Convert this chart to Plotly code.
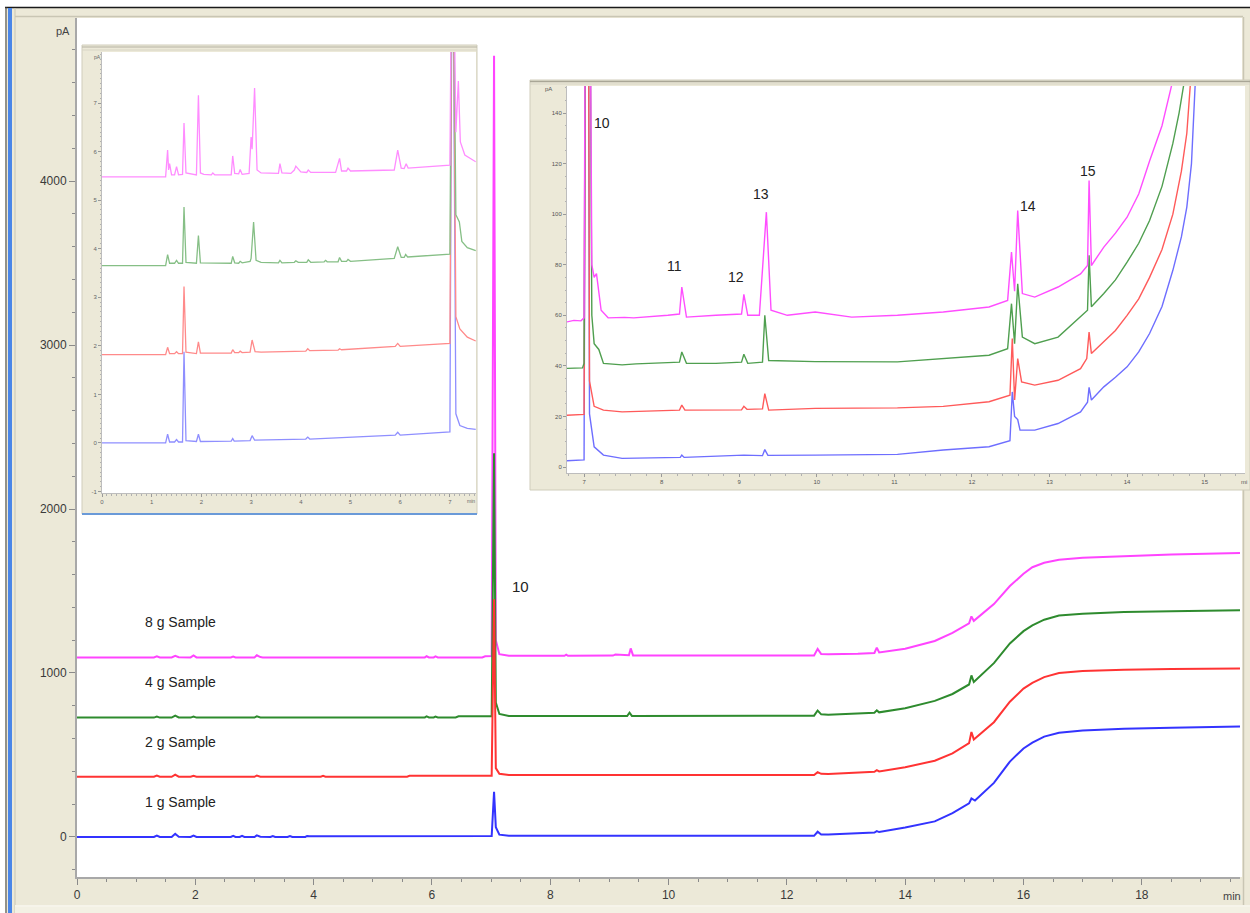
import plotly.graph_objects as go

W, H = 1250, 913

# ---------------- main chromatogram (pA vs min) ----------------
sample_names = ["1 g Sample", "2 g Sample", "4 g Sample", "8 g Sample"]

main_blue = [(0, 0), (1.30, 0), (1.35, 9), (1.40, 0), (1.60, 0), (1.66, 20), (1.72, 2), (1.92, 0), (1.97, 9),
             (2.02, 0), (2.60, 0), (2.64, 7), (2.68, 0), (2.75, 0), (2.79, 7), (2.83, 0), (3.00, 0), (3.04, 10),
             (3.10, 2), (3.27, 0), (3.31, 6), (3.35, 0), (3.56, 0), (3.60, 6), (3.64, 0), (3.86, 0), (3.89, 6),
             (3.93, 5), (7.01, 6), (7.05, 275), (7.08, 60), (7.14, 14), (7.30, 7), (12.46, 7), (12.52, 32),
             (12.58, 15), (12.70, 15), (13.20, 22), (13.48, 27), (13.52, 36), (13.56, 30), (14.00, 58),
             (14.50, 95), (14.80, 145), (15.08, 205), (15.12, 235), (15.18, 222), (15.50, 330), (15.77, 460),
             (16.00, 540), (16.15, 575), (16.35, 612), (16.60, 636), (17.00, 650), (17.70, 660), (18.50, 666),
             (19.66, 673)]

main_red = [(0, 367), (1.30, 367), (1.35, 374), (1.40, 367), (1.60, 367), (1.66, 380), (1.72, 368), (1.92, 367),
            (1.97, 373), (2.02, 367), (3.00, 367), (3.04, 375), (3.10, 368), (4.12, 368), (4.16, 373), (4.20, 368),
            (5.58, 368), (5.62, 373), (7.01, 373), (7.05, 1450), (7.08, 420), (7.14, 385), (7.30, 378),
            (12.46, 378), (12.52, 395), (12.58, 385), (12.70, 384), (13.20, 392), (13.48, 398), (13.52, 408),
            (13.56, 400), (14.00, 425), (14.50, 465), (14.80, 510), (15.08, 572), (15.12, 640), (15.16, 595),
            (15.50, 700), (15.77, 825), (16.00, 905), (16.15, 940), (16.35, 975), (16.60, 1000), (17.00, 1012),
            (17.70, 1020), (18.50, 1024), (19.66, 1028)]

main_green = [(0, 728), (1.30, 728), (1.35, 735), (1.40, 728), (1.60, 728), (1.66, 740), (1.72, 729), (1.92, 728),
              (1.97, 735), (2.02, 728), (3.00, 728), (3.04, 736), (3.10, 729), (5.88, 729), (5.91, 735),
              (5.95, 729), (6.03, 729), (6.06, 734), (6.10, 729), (6.40, 729), (6.45, 736), (7.01, 736),
              (7.05, 2340), (7.08, 820), (7.14, 750), (7.30, 738), (9.30, 738), (9.34, 758), (9.38, 738),
              (12.46, 740), (12.52, 771), (12.58, 748), (12.70, 746), (13.20, 752), (13.48, 758), (13.52, 772),
              (13.56, 760), (14.00, 785), (14.50, 830), (14.80, 872), (15.08, 930), (15.12, 985), (15.16, 945),
              (15.50, 1060), (15.77, 1180), (16.00, 1255), (16.15, 1290), (16.35, 1325), (16.60, 1350),
              (17.00, 1362), (17.70, 1372), (18.50, 1377), (19.66, 1382)]

main_magenta = [(0, 1095), (1.30, 1095), (1.35, 1102), (1.40, 1095), (1.60, 1095), (1.66, 1105), (1.72, 1096),
                (1.92, 1095), (1.97, 1107), (2.02, 1095), (2.60, 1095), (2.64, 1100), (2.68, 1095), (3.00, 1095),
                (3.04, 1108), (3.10, 1097), (3.14, 1095), (4.10, 1095), (4.14, 1099), (4.18, 1095), (5.88, 1095),
                (5.91, 1102), (5.95, 1095), (6.03, 1095), (6.06, 1101), (6.10, 1095), (6.85, 1095), (6.90, 1102),
                (7.01, 1103), (7.05, 4764), (7.08, 1200), (7.14, 1115), (7.30, 1105), (8.24, 1105), (8.27, 1112),
                (8.30, 1105), (9.06, 1106), (9.10, 1112), (9.33, 1108), (9.36, 1150), (9.40, 1107), (12.46, 1107),
                (12.52, 1147), (12.58, 1115), (12.70, 1114), (13.20, 1117), (13.48, 1122), (13.52, 1155),
                (13.56, 1125), (14.00, 1148), (14.50, 1195), (14.80, 1245), (15.08, 1303), (15.12, 1345),
                (15.16, 1318), (15.50, 1420), (15.77, 1530), (16.00, 1605), (16.15, 1645), (16.35, 1672),
                (16.60, 1690), (17.00, 1702), (17.70, 1713), (18.50, 1722), (19.66, 1731)]

# ---------------- inset 1 (0 - 7.5 min) ----------------
in1_ticks = [-1, 0, 1, 2, 3, 4, 5, 6, 7]

in1_blue = [(0, 0), (1.28, 0), (1.32, 0.18), (1.36, 0.02), (1.46, 0.02), (1.50, 0.07), (1.54, 0.02), (1.62, 0.02),
            (1.65, 1.88), (1.69, 0.05), (1.90, 0.03), (1.94, 0.18), (1.98, 0.03), (2.60, 0.04), (2.63, 0.09),
            (2.66, 0.04), (2.98, 0.05), (3.02, 0.15), (3.07, 0.06), (4.10, 0.08), (4.14, 0.12), (4.18, 0.08),
            (5.90, 0.16), (5.95, 0.22), (6.00, 0.16), (7.00, 0.23), (7.05, 12), (7.12, 0.6), (7.20, 0.36),
            (7.35, 0.30), (7.52, 0.28)]

in1_red = [(0, 1.82), (1.28, 1.82), (1.32, 1.97), (1.36, 1.84), (1.46, 1.84), (1.50, 1.88), (1.54, 1.84),
           (1.62, 1.84), (1.65, 3.22), (1.69, 1.87), (1.90, 1.84), (1.94, 2.08), (1.98, 1.85), (2.60, 1.85),
           (2.63, 1.92), (2.67, 1.86), (2.75, 1.86), (2.78, 1.89), (2.82, 1.86), (2.98, 1.87), (3.02, 2.12),
           (3.08, 1.88), (3.20, 1.87), (4.10, 1.89), (4.14, 1.94), (4.18, 1.90), (4.75, 1.91), (4.78, 1.94),
           (4.82, 1.92), (5.90, 1.99), (5.95, 2.05), (6.00, 1.99), (7.00, 2.05), (7.05, 12), (7.12, 2.6),
           (7.20, 2.35), (7.35, 2.18), (7.52, 2.10)]

in1_green = [(0, 3.65), (1.28, 3.65), (1.32, 3.88), (1.36, 3.70), (1.46, 3.70), (1.50, 3.76), (1.54, 3.70),
             (1.62, 3.70), (1.65, 4.86), (1.69, 3.72), (1.90, 3.70), (1.94, 4.27), (1.98, 3.71), (2.60, 3.70),
             (2.63, 3.84), (2.67, 3.71), (2.75, 3.70), (2.78, 3.74), (2.82, 3.71), (2.98, 3.74), (3.00, 3.80),
             (3.05, 4.55), (3.10, 3.76), (3.20, 3.72), (3.55, 3.71), (3.58, 3.76), (3.62, 3.71), (3.87, 3.72),
             (3.90, 3.75), (3.95, 3.72), (4.12, 3.72), (4.15, 3.77), (4.20, 3.72), (4.47, 3.73), (4.50, 3.76),
             (4.53, 3.73), (4.75, 3.73), (4.78, 3.82), (4.82, 3.74), (4.92, 3.74), (4.95, 3.78), (5.00, 3.74),
             (5.88, 3.80), (5.95, 4.04), (6.02, 3.82), (6.08, 3.82), (6.11, 3.88), (6.15, 3.83), (7.00, 3.89),
             (7.05, 12), (7.12, 4.7), (7.19, 4.55), (7.24, 4.15), (7.35, 4.02), (7.52, 3.96)]

in1_magenta = [(0, 5.48), (1.28, 5.48), (1.32, 6.03), (1.34, 5.62), (1.36, 5.75), (1.40, 5.52), (1.46, 5.52),
               (1.50, 5.69), (1.54, 5.52), (1.62, 5.53), (1.65, 6.59), (1.69, 5.56), (1.90, 5.52), (1.94, 7.16),
               (1.98, 5.56), (2.05, 5.53), (2.20, 5.52), (2.23, 5.56), (2.27, 5.52), (2.60, 5.52), (2.63, 5.91),
               (2.67, 5.55), (2.75, 5.54), (2.78, 5.63), (2.82, 5.53), (2.96, 5.55), (3.00, 6.30), (3.02, 6.05),
               (3.07, 7.31), (3.12, 5.62), (3.20, 5.56), (3.55, 5.55), (3.58, 5.75), (3.62, 5.56), (3.80, 5.55),
               (3.87, 5.62), (3.90, 5.70), (3.95, 5.64), (4.00, 5.58), (4.12, 5.57), (4.15, 5.62), (4.20, 5.57),
               (4.70, 5.57), (4.78, 5.86), (4.82, 5.60), (4.92, 5.60), (4.95, 5.66), (5.00, 5.60), (5.88, 5.62),
               (5.95, 6.03), (6.02, 5.66), (6.08, 5.65), (6.12, 5.75), (6.16, 5.66), (7.00, 5.72), (7.05, 12),
               (7.12, 6.4), (7.17, 7.45), (7.21, 6.2), (7.30, 5.93), (7.52, 5.79)]

# ---------------- inset 2 (7 - 15.5 min, pA) ----------------
in2_blue = [(6.78, 2.5), (7.00, 2.8), (7.04, 400), (7.07, 21), (7.13, 8), (7.25, 4.7), (7.49, 3.4), (8.08, 3.6),
            (8.24, 3.8), (8.26, 4.7), (8.29, 3.8), (9.06, 4.7), (9.30, 4.5), (9.33, 6.9), (9.37, 4.6),
            (9.98, 4.7), (11.04, 5.0), (11.63, 6.7), (12.22, 8.0), (12.49, 10.4), (12.52, 29.7), (12.55, 20),
            (12.59, 18.8), (12.62, 14.6), (12.81, 14.6), (13.11, 17.2), (13.40, 21.8), (13.49, 25.6),
            (13.51, 31.5), (13.54, 26.5), (13.70, 31.7), (13.85, 35.5), (14.00, 39.6), (14.15, 45.5),
            (14.29, 52.8), (14.45, 63.5), (14.59, 77.8), (14.70, 91), (14.77, 102.8), (14.83, 120),
            (14.88, 152.8), (15.00, 200)]

in2_red = [(6.78, 20.5), (7.00, 20.8), (7.04, 400), (7.07, 34), (7.13, 24), (7.25, 22.5), (7.49, 21.8),
           (8.08, 22.5), (8.23, 22.5), (8.26, 24.5), (8.30, 22.5), (9.03, 22.6), (9.06, 24), (9.10, 22.8),
           (9.30, 23), (9.33, 29), (9.38, 22.5), (9.98, 23.2), (11.04, 23.4), (11.63, 24), (12.22, 25.8),
           (12.49, 28.4), (12.52, 50.8), (12.55, 26.5), (12.59, 42.9), (12.64, 33.7), (12.81, 32.4),
           (13.11, 34.3), (13.40, 38.9), (13.48, 42.9), (13.51, 53.4), (13.54, 44.9), (13.70, 49.5),
           (13.85, 54), (14.00, 60), (14.15, 66.5), (14.29, 75), (14.45, 86), (14.59, 100), (14.70, 117),
           (14.77, 132), (14.82, 153), (15.00, 230)]

in2_green = [(6.78, 39), (6.98, 39.2), (7.00, 41), (7.04, 400), (7.10, 60), (7.13, 48.8), (7.19, 46.5),
             (7.25, 41), (7.49, 40.4), (7.67, 40.8), (8.08, 41.3), (8.23, 41.5), (8.26, 45.5), (8.32, 41),
             (8.70, 41), (9.03, 41.5), (9.06, 44.6), (9.11, 41), (9.30, 41.5), (9.33, 60), (9.38, 42.1),
             (9.98, 41.7), (11.04, 41.6), (11.63, 42.8), (12.22, 44.2), (12.46, 46.8), (12.51, 64.6),
             (12.55, 48.8), (12.59, 72.5), (12.65, 51.4), (12.81, 48.8), (13.11, 51.4), (13.40, 59.3),
             (13.49, 62), (13.51, 83.7), (13.54, 63.4), (13.70, 68.6), (13.85, 74), (14.00, 81), (14.15, 88.5),
             (14.29, 97.5), (14.45, 111), (14.59, 128), (14.67, 140), (14.74, 153), (15.00, 260)]

in2_magenta = [(6.78, 57.4), (6.87, 58), (6.96, 57.8), (7.00, 59), (7.04, 400), (7.10, 80), (7.13, 75),
               (7.16, 76.5), (7.22, 62), (7.31, 59), (7.52, 59.2), (7.64, 59), (8.08, 60), (8.23, 60.5),
               (8.26, 71.2), (8.32, 59.3), (8.70, 60), (9.03, 60.5), (9.06, 68.3), (9.11, 60), (9.26, 60),
               (9.35, 100.8), (9.41, 62), (9.62, 60), (9.98, 61.3), (10.45, 59.3), (11.04, 60), (11.63, 61.3),
               (12.22, 63.3), (12.46, 65.9), (12.51, 85), (12.55, 69.5), (12.59, 101.4), (12.65, 68.6),
               (12.81, 67.2), (13.11, 71.2), (13.40, 76.4), (13.49, 79.7), (13.51, 113.3), (13.54, 79.7),
               (13.70, 87), (13.85, 92.5), (14.00, 98.8), (14.15, 108), (14.29, 121), (14.45, 135),
               (14.59, 153), (14.75, 200)]

peak_labels = ["10", "11", "12", "13", "14", "15"]
peak_label_x = [7.23, 8.16, 8.96, 9.28, 12.72, 13.49]
peak_label_y = [136, 79.7, 75.0, 108, 103.4, 117.2]

sample_label_y = [213, 579, 945, 1311]

# ---------------- helpers ----------------
def pxx(x):
    return x / W


def pyy(y):
    return (H - y) / H


FONT = "Arial, Liberation Sans, DejaVu Sans, sans-serif"
fig = go.Figure()


def add(series, color, width, xa, ya, opacity=1.0):
    xs = [p[0] for p in series]
    ys = [p[1] for p in series]
    fig.add_trace(go.Scatter(x=xs, y=ys, mode="lines", xaxis=xa, yaxis=ya, opacity=opacity,
                             line=dict(color=color, width=width), hoverinfo="skip", showlegend=False))


# main traces (magenta drawn first, blue last)
add(main_magenta, "#ff44ff", 2.0, "x", "y")
add(main_green, "#2e8b2e", 2.0, "x", "y")
add(main_red, "#ff3333", 2.0, "x", "y")
add(main_blue, "#3333ff", 2.0, "x", "y")

# inset 1 (pale)
add(in1_blue, "#8f8fff", 1.3, "x2", "y2")
add(in1_red, "#ff8a8a", 1.3, "x2", "y2")
add(in1_green, "#86bf86", 1.3, "x2", "y2")
add(in1_magenta, "#ff8cff", 1.3, "x2", "y2")

# inset 2
add(in2_blue, "#6e6eff", 1.4, "x3", "y3")
add(in2_red, "#ff5a5a", 1.4, "x3", "y3")
add(in2_green, "#4f9f4f", 1.4, "x3", "y3")
add(in2_magenta, "#ff4dff", 1.4, "x3", "y3")

BEIGE = "#ece9d8"
GRID_GRAY = "#a8a8a8"

shapes = []


def rect(x0, y0, x1, y1, fill, line_color=None, lw=0):
    shapes.append(dict(type="rect", xref="paper", yref="paper", x0=pxx(x0), x1=pxx(x1), y0=pyy(y1), y1=pyy(y0),
                       fillcolor=fill, line=dict(color=line_color or fill, width=lw), layer="below"))


def hline(x0, x1, y, color, w=1):
    shapes.append(dict(type="line", xref="paper", yref="paper", x0=pxx(x0), x1=pxx(x1), y0=pyy(y), y1=pyy(y),
                       line=dict(color=color, width=w), layer="below"))


def vline(x, y0, y1, color, w=1):
    shapes.append(dict(type="line", xref="paper", yref="paper", x0=pxx(x), x1=pxx(x), y0=pyy(y0), y1=pyy(y1),
                       line=dict(color=color, width=w), layer="below"))


# outer window frame
rect(0, 0, 1250, 7, "#ffffff")
rect(0, 0, 5, 913, "#ffffff")
hline(5, 1250, 7.5, "#1a1a1a", 1.5)
vline(6, 7, 913, "#3a3a3a", 1)
rect(8, 8, 12, 913, "#4a86e8")
vline(15, 8, 913, "#c9c6b4", 1)
hline(15, 1243, 16.5, "#c9c6b4", 1.5)
# main plot area
rect(77, 18, 1242, 877, "#ffffff")
vline(1243.5, 17, 906, "#c9c6b4", 1.5)
hline(15, 1250, 906, "#f6f4ea", 2)
rect(15, 907, 1250, 913, "#f3f1e4")

# inset 1 frame
rect(82, 45, 477, 514, BEIGE, "#d0cdbb", 1)
hline(82, 477, 47, "#b5b2a3", 1)
hline(82, 477, 50, "#d8d5c5", 1)
rect(102, 52, 476, 493, "#ffffff")
hline(82, 477, 514, "#6a9ad8", 2)

# inset 2 frame
rect(530, 80, 1250, 490, BEIGE, "#d0cdbb", 1)
hline(530, 1250, 81.5, "#a9a696", 1.5)
hline(530, 1250, 84, "#d8d5c5", 1)
rect(567, 86, 1245, 473, "#ffffff")

axis_common = dict(showgrid=False, zeroline=False, showline=True, ticks="outside", fixedrange=True,
                   automargin=False)

fig.update_layout(
    width=W, height=H, margin=dict(l=0, r=0, t=0, b=0, pad=0, autoexpand=False),
    paper_bgcolor=BEIGE, plot_bgcolor="rgba(0,0,0,0)",
    showlegend=False, shapes=shapes,
    font=dict(family=FONT, color="#333333"),
    xaxis=dict(domain=[pxx(77), pxx(1240)], range=[0, 19.66], anchor="y", tickmode="linear", tick0=0, dtick=2,
               ticklen=6, tickcolor="#8a8a8a", linecolor=GRID_GRAY, linewidth=2,
               minor=dict(dtick=0.5, tick0=0, ticklen=3, tickcolor="#8a8a8a", ticks="outside"),
               tickfont=dict(size=12, color="#3a3a3a"), **axis_common),
    yaxis=dict(domain=[pyy(877), pyy(18)], range=[-244, 4994], anchor="x", tickmode="linear", tick0=0,
               dtick=1000, ticklen=6, tickcolor="#8a8a8a", linecolor=GRID_GRAY, linewidth=2,
               minor=dict(dtick=200, tick0=0, ticklen=3, tickcolor="#8a8a8a", ticks="outside"),
               tickfont=dict(size=12, color="#3a3a3a"), **axis_common),
    xaxis2=dict(domain=[pxx(102), pxx(476)], range=[0, 7.525], anchor="y2", tickmode="linear", tick0=0, dtick=1,
                ticklen=3, tickcolor="#999999", linecolor="#bdbdbd", linewidth=1,
                minor=dict(dtick=0.1, tick0=0, ticklen=1.5, tickcolor="#b0b0b0", ticks="outside"),
                tickfont=dict(size=6, color="#666666"), **axis_common),
    yaxis2=dict(domain=[pyy(493), pyy(52)], range=[-1.03, 8.05], anchor="x2", tickmode="array",
                tickvals=in1_ticks, ticktext=[str(v) for v in in1_ticks],
                ticklen=3, tickcolor="#999999", linecolor="#bdbdbd", linewidth=1,
                minor=dict(dtick=0.1, tick0=0, ticklen=1.5, tickcolor="#b0b0b0", ticks="outside"),
                tickfont=dict(size=6, color="#666666"), **axis_common),
    xaxis3=dict(domain=[pxx(567), pxx(1245)], range=[6.78, 15.52], anchor="y3", tickmode="linear", tick0=7, dtick=1,
                ticklen=3, tickcolor="#999999", linecolor="#bdbdbd", linewidth=1,
                minor=dict(dtick=0.2, tick0=7, ticklen=1.5, tickcolor="#b0b0b0", ticks="outside"),
                tickfont=dict(size=6, color="#555555"), **axis_common),
    yaxis3=dict(domain=[pyy(473), pyy(86)], range=[-2.37, 150.7], anchor="x3", tickmode="linear", tick0=0, dtick=20,
                ticklen=3, tickcolor="#999999", linecolor="#bdbdbd", linewidth=1,
                minor=dict(dtick=5, tick0=0, ticklen=1.5, tickcolor="#b0b0b0", ticks="outside"),
                tickfont=dict(size=6, color="#555555"), **axis_common),
)

annotations = []
# sample labels on the main chart
for name, yv in zip(sample_names, sample_label_y):
    annotations.append(dict(x=1.115, y=yv, xref="x", yref="y", text=name, showarrow=False, xanchor="left",
                            yanchor="middle", font=dict(size=14, color="#222222", family=FONT)))
# main peak label
annotations.append(dict(x=7.49, y=1529, xref="x", yref="y", text="10", showarrow=False,
                        xanchor="center", yanchor="middle", font=dict(size=15, color="#222222", family=FONT)))
# inset 2 peak labels
for t, xv, yv in zip(peak_labels, peak_label_x, peak_label_y):
    annotations.append(dict(x=xv, y=yv, xref="x3", yref="y3", text=t, showarrow=False,
                            xanchor="center", yanchor="middle", font=dict(size=14, color="#222222", family=FONT)))


def unit_label(x, y, text, size, color):
    return dict(x=pxx(x), y=pyy(y), xref="paper", yref="paper", text=text, showarrow=False,
                xanchor="center", yanchor="middle", font=dict(size=size, color=color, family=FONT))


annotations += [
    unit_label(63, 31, "pA", 11, "#444444"),
    unit_label(1232, 896, "min", 11, "#444444"),
    unit_label(97, 57, "pA", 5, "#666666"),
    unit_label(471, 501, "min", 5, "#666666"),
    unit_label(548, 89, "pA", 6, "#555555"),
    unit_label(1244, 482, "mi", 6, "#555555"),
]
fig.update_layout(annotations=annotations)

fig.write_html("out.html", config={"displayModeBar": False},
               post_script="document.body.style.margin='0';document.body.style.padding='0';")
